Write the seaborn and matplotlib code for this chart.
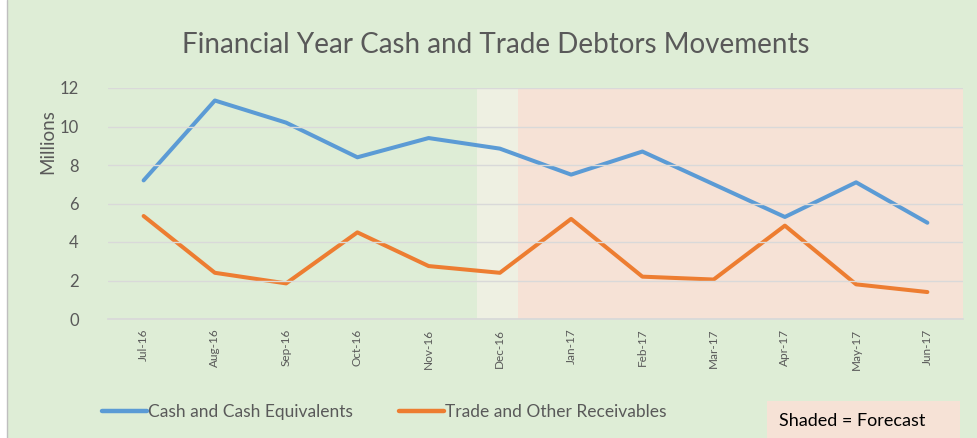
import matplotlib
matplotlib.use("Agg")
import matplotlib.pyplot as plt
import matplotlib.patches as mpatches
from matplotlib.lines import Line2D
import seaborn as sns
import pandas as pd

months = ["Jul-16", "Aug-16", "Sep-16", "Oct-16", "Nov-16", "Dec-16",
          "Jan-17", "Feb-17", "Mar-17", "Apr-17", "May-17", "Jun-17"]
cash = [7.2, 11.35, 10.2, 8.4, 9.4, 8.85, 7.5, 8.7, 7.0, 5.3, 7.1, 5.0]
trade = [5.35, 2.4, 1.85, 4.5, 2.75, 2.4, 5.2, 2.2, 2.05, 4.85, 1.8, 1.4]
series_names = ["Cash and Cash Equivalents", "Trade and Other Receivables"]
yticks = [0, 2, 4, 6, 8, 10, 12]

df = pd.concat([
    pd.DataFrame({"Month": months, "Value": cash, "Series": series_names[0]}),
    pd.DataFrame({"Month": months, "Value": trade, "Series": series_names[1]}),
])

sns.set_theme(style="white")
plt.rcParams["font.family"] = ["Lato", "DejaVu Sans"]

BG = "#DEEDD6"
PINK = "#F6E2D6"
LIGHT = "#EEF0E2"
TXT = "#595959"
palette = {series_names[0]: "#5B9BD5", series_names[1]: "#ED7D31"}

fig = plt.figure(figsize=(9.77, 4.38), dpi=100, facecolor=BG)
ax = fig.add_axes([108/977, 1-319/438, (963-108)/977, (319-88)/438])
ax.set_facecolor(BG)

# left white strip with grey border
fig.patches.append(mpatches.Rectangle((0, 0), 7/977, 1, transform=fig.transFigure,
                                      facecolor="white", edgecolor="none", zorder=0))
fig.add_artist(Line2D([7/977, 7/977], [0, 1], transform=fig.transFigure,
                      color="#BFBFBF", lw=1))

ax.axvspan(4.68, 5.25, color=LIGHT, lw=0, zorder=0)
ax.axvspan(5.25, 11.5, color=PINK, lw=0, zorder=0)

sns.lineplot(data=df, x="Month", y="Value", hue="Series", palette=palette,
             linewidth=2.9, ax=ax, legend=False, sort=False)

ax.set_xlim(-0.5, 11.5)
ax.set_ylim(0, 12)
ax.set_yticks(yticks)
ax.set_yticklabels([str(v) for v in yticks], fontsize=12, color=TXT)
ax.set_xticks(range(len(months)))
ax.set_xticklabels(months, rotation=90, fontsize=8.5, color=TXT)
ax.tick_params(axis="x", length=0, pad=7)
ax.tick_params(axis="y", length=0, pad=21)
ax.set_xticks([i + 0.5 for i in range(-1, len(months))], minor=True)
ax.tick_params(axis="x", which="minor", length=4, color="#D9D9D9", direction="out")

ax.yaxis.grid(True, color="#D9D9D9", lw=1)
ax.set_axisbelow(False)
for ln in ax.get_ygridlines():
    ln.set_zorder(0.5)
for s in ["top", "right", "left"]:
    ax.spines[s].set_visible(False)
ax.spines["bottom"].set_color("#D9D9D9")
ax.spines["bottom"].set_zorder(0.5)

ax.set_xlabel("")
ax.set_ylabel("Millions", fontsize=13.5, color=TXT)
ax.yaxis.set_label_coords(-0.06, 0.77)

fig.text(496/977, 1-45/438, "Financial Year Cash and Trade Debtors Movements",
         ha="center", va="center", fontsize=20, color=TXT)

handles = [Line2D([], [], color=palette[n], lw=3.2) for n in series_names]
fig.legend(handles, series_names, loc="center left",
           bbox_to_anchor=(86/977, 1-412/438), ncol=2, frameon=False,
           fontsize=12.5, handlelength=2.6, handletextpad=0.1, columnspacing=2.6,
           labelcolor=TXT)

fig.patches.append(mpatches.Rectangle((767/977, 0), (960-767)/977, (438-401)/438,
                                      transform=fig.transFigure, facecolor=PINK,
                                      edgecolor="none", zorder=1))
fig.text(779/977, 1-421/438, "Shaded = Forecast", ha="left", va="center",
         fontsize=13, color="black")

fig.savefig("out.png", dpi=100, facecolor=BG)
